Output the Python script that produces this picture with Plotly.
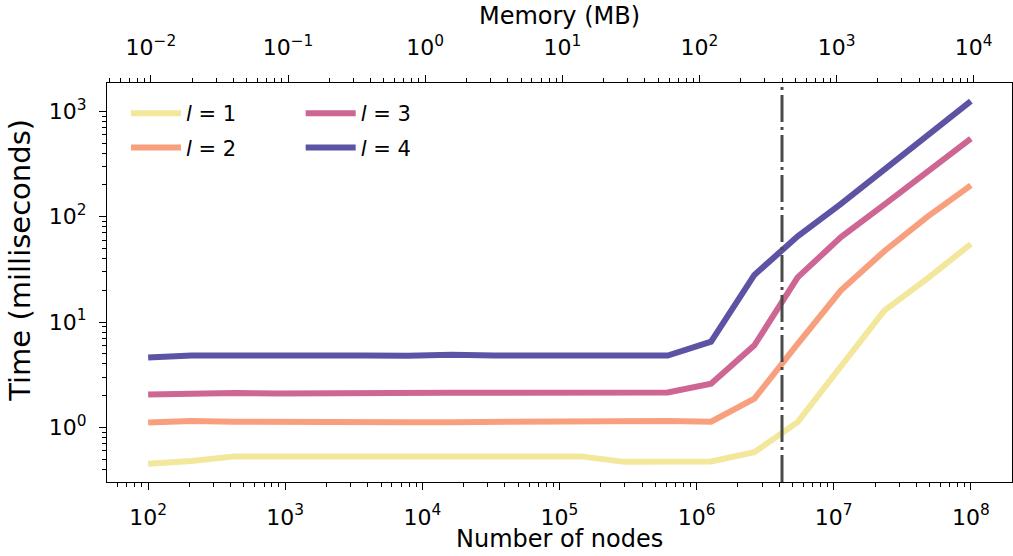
import math
import plotly.graph_objects as go

# ---- data ----
nodes = [100, 207, 428, 886, 1833, 3793, 7848, 16238, 33598, 69519,
         143845, 297635, 615848, 1274275, 2636651, 5455595, 11288379,
         23357215, 48329302, 100000000]
time_l1 = [0.45, 0.48, 0.53, 0.53, 0.53, 0.53, 0.53, 0.53, 0.53, 0.53,
           0.53, 0.47, 0.475, 0.475, 0.58, 1.12, 3.8, 12.8, 26, 55]
time_l2 = [1.11, 1.15, 1.13, 1.12, 1.12, 1.12, 1.12, 1.12, 1.13, 1.13,
           1.13, 1.14, 1.15, 1.13, 1.87, 6.2, 20, 47, 100, 198]
time_l3 = [2.05, 2.1, 2.12, 2.1, 2.12, 2.12, 2.13, 2.13, 2.13, 2.13,
           2.15, 2.14, 2.14, 2.6, 6.0, 26.5, 64, 130, 270, 550]
time_l4 = [4.6, 4.8, 4.8, 4.75, 4.78, 4.8, 4.78, 4.9, 4.8, 4.82,
           4.85, 4.8, 4.8, 6.5, 28, 65, 132, 280, 590, 1250]
level_names = ["<i>l</i> = 1", "<i>l</i> = 2", "<i>l</i> = 3", "<i>l</i> = 4"]
colors = ["#f3e79b", "#f8a07e", "#ce6693", "#5c53a5"]
cache_nodes = 4194304          # dash-dot marker (2^22 nodes)
bytes_per_node = 100
bytes_per_mb = 2 ** 20
node_exponents = [2, 3, 4, 5, 6, 7, 8]
memory_exponents = [-2, -1, 0, 1, 2, 3, 4]
time_exponents = [0, 1, 2, 3]

series = [time_l1, time_l2, time_l3, time_l4]
legend_ids = ["legend", "legend", "legend2", "legend2"]

FONT = "DejaVu Sans"
fig = go.Figure()
for name, ys, col, lg in zip(level_names, series, colors, legend_ids):
    fig.add_trace(go.Scatter(x=nodes, y=ys, mode="lines", name=name,
                             line=dict(color=col, width=6),
                             legend=lg, legendgroup=name, hoverinfo="skip"))

memory = [n * bytes_per_node / bytes_per_mb for n in nodes]
fig.add_trace(go.Scatter(x=memory, y=time_l4, xaxis="x2", mode="lines",
                         line=dict(width=0), opacity=0, showlegend=False,
                         hoverinfo="skip"))

fig.add_shape(type="line", xref="x", yref="paper", x0=cache_nodes, x1=cache_nodes,
              y0=0, y1=1, line=dict(color="#4a4a4a", width=3, dash="27px,5px,3px,5px"))

# axis titles drawn as text beside the axes
fig.add_annotation(text="Time (milliseconds)", textangle=-90, xref="paper", yref="paper",
                   x=-0.097, y=0.555, xanchor="center", yanchor="middle", showarrow=False,
                   font=dict(family=FONT, size=29, color="black"))
fig.add_annotation(text="Number of nodes", xref="paper", yref="paper",
                   x=0.5, y=-0.144, xanchor="center", yanchor="middle", showarrow=False,
                   font=dict(family=FONT, size=24, color="black"))

# axis ranges with 5% margins (matplotlib-like)
xl, xh = math.log10(min(nodes)), math.log10(max(nodes))
xpad = 0.05 * (xh - xl)
xr = [xl - xpad, xh + xpad]
allv = time_l1 + time_l2 + time_l3 + time_l4
yl, yh = math.log10(min(allv)), math.log10(max(allv))
ypad = 0.05 * (yh - yl)
yr = [yl - ypad, yh + ypad]
shift = math.log10(bytes_per_node / bytes_per_mb)
x2r = [xr[0] + shift, xr[1] + shift]


def minors(e0, e1):
    return [m * 10 ** e for e in range(e0, e1) for m in range(2, 10)]


def sup(e):
    return "10<sup>" + str(e).replace("-", "\u2212") + "</sup>"


tickfont = dict(family=FONT, size=22, color="black")
common = dict(type="log", tickmode="array", showgrid=False, automargin=False,
              zeroline=False, ticks="outside", ticklen=7, tickwidth=1.3,
              tickcolor="black", tickfont=tickfont)
minor_common = dict(tickmode="array", ticks="outside", ticklen=4, tickwidth=1.1,
                    tickcolor="black", showgrid=False)

fig.update_layout(
    width=1013, height=556,
    margin=dict(l=107, r=1, t=83, b=74),
    paper_bgcolor="white", plot_bgcolor="white",
    font=dict(family=FONT, color="black"),
    xaxis=dict(**common, range=xr, showline=True, linecolor="black", linewidth=1.3,
               mirror=True, ticklabelstandoff=8,
               tickvals=[10 ** e for e in node_exponents],
               ticktext=[sup(e) for e in node_exponents],
               minor=dict(**minor_common, tickvals=minors(1, 9))),
    xaxis2=dict(**common, range=x2r, overlaying="x", side="top", anchor="y",
                showline=False, ticklabelstandoff=11,
                tickvals=[10.0 ** e for e in memory_exponents],
                ticktext=[sup(e) for e in memory_exponents],
                minor=dict(**minor_common, tickvals=minors(-3, 5)),
                title=dict(text="Memory (MB)",
                           font=dict(family=FONT, size=24, color="black"), standoff=0)),
    yaxis=dict(**common, range=yr, showline=True, linecolor="black", linewidth=1.3,
               mirror=True, ticklabelstandoff=8,
               tickvals=[10 ** e for e in time_exponents],
               ticktext=[sup(e) for e in time_exponents],
               minor=dict(**minor_common, tickvals=minors(-1, 4))),
    legend=dict(x=0.021, y=0.975, xanchor="left", yanchor="top", bgcolor="rgba(0,0,0,0)",
                font=dict(family=FONT, size=21, color="black"), tracegroupgap=4,
                itemwidth=50),
    legend2=dict(x=0.214, y=0.975, xanchor="left", yanchor="top", bgcolor="rgba(0,0,0,0)",
                 font=dict(family=FONT, size=21, color="black"), tracegroupgap=4,
                 itemwidth=50),
    showlegend=True,
)

fig.write_html("out.html", config={"displayModeBar": False},
               post_script="document.body.style.margin='0';document.body.style.padding='0';")
